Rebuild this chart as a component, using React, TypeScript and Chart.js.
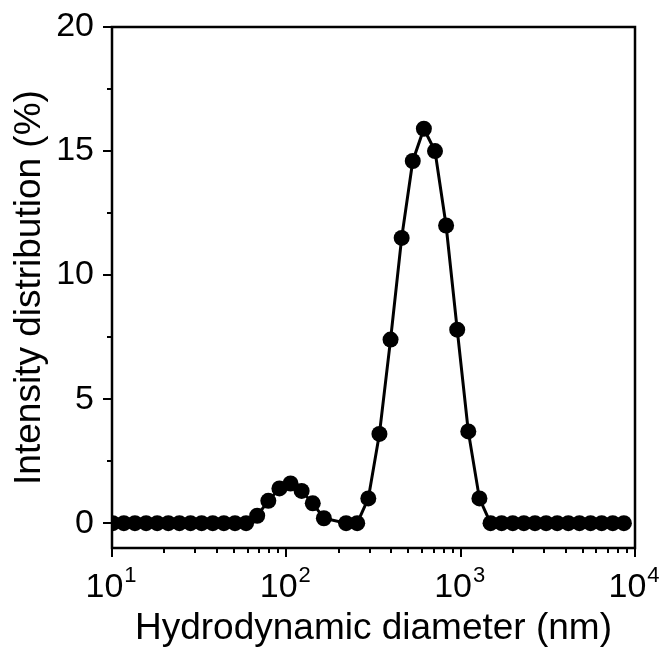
import React, { useEffect, useRef } from "react";
import { Chart, registerables } from "chart.js";

Chart.register(...registerables);

// Hydrodynamic diameter bins (nm)
const diameters: number[] = [
  10.1, 11.7, 13.54, 15.69, 18.17, 21.04, 24.36, 28.21, 32.67, 37.84, 43.82, 50.75, 58.77,
  68.06, 78.82, 91.28, 105.7, 122.4, 141.8, 164.2,
  220.2, 255.0,
  295.3, 342.0, 396.1, 458.7, 531.2, 615.1, 712.4, 825.0, 955.4, 1106, 1281,
  1484, 1718, 1990, 2305, 2669, 3091, 3580, 4145, 4801, 5560, 6439, 7456, 8635,
];
// Intensity distribution (%)
const intensity: number[] = [
  0, 0, 0, 0, 0, 0, 0, 0, 0, 0, 0, 0, 0,
  0.3, 0.9, 1.4, 1.6, 1.3, 0.8, 0.2,
  0, 0,
  1.0, 3.6, 7.4, 11.5, 14.6, 15.9, 15.0, 12.0, 7.8, 3.7, 1.0,
  0, 0, 0, 0, 0, 0, 0, 0, 0, 0, 0, 0, 0,
];

const xMajorTicks: number[] = [10, 100, 1000, 10000];
const xExponents: string[] = ["1", "2", "3", "4"];
const yMajorTicks: number[] = [0, 5, 10, 15, 20];
const yMinorTicks: number[] = [2.5, 7.5, 12.5, 17.5];

const xTitle = "Hydrodynamic diameter (nm)";
const yTitle = "Intensity distribution (%)";

const FONT = "'Liberation Sans', Arial, Helvetica, sans-serif";

const axesPlugin = {
  id: "originAxes",
  afterDraw(chart: any) {
    const { ctx, chartArea } = chart;
    const xs = chart.scales.x;
    const ys = chart.scales.y;
    const { left, right, top, bottom } = chartArea;
    ctx.save();
    ctx.strokeStyle = "#000";
    ctx.lineWidth = 2.5;
    ctx.lineCap = "square";
    ctx.strokeRect(left, top, right - left, bottom - top);
    ctx.lineCap = "butt";
    ctx.lineWidth = 2;
    ctx.beginPath();
    for (const v of yMajorTicks) {
      const p = Math.round(ys.getPixelForValue(v));
      ctx.moveTo(left, p);
      ctx.lineTo(left - 9, p);
    }
    for (const v of yMinorTicks) {
      const p = Math.round(ys.getPixelForValue(v));
      ctx.moveTo(left, p);
      ctx.lineTo(left - 5, p);
    }
    for (let i = 0; i < xMajorTicks.length; i++) {
      const d = xMajorTicks[i];
      const p = Math.round(xs.getPixelForValue(d));
      ctx.moveTo(p, bottom);
      ctx.lineTo(p, bottom + 9);
      if (i < xMajorTicks.length - 1) {
        for (let k = 2; k <= 9; k++) {
          const q = Math.round(xs.getPixelForValue(d * k));
          ctx.moveTo(q, bottom);
          ctx.lineTo(q, bottom + 5);
        }
      }
    }
    ctx.stroke();

    // x tick labels: 10 with superscript exponent
    ctx.fillStyle = "#000";
    ctx.textBaseline = "alphabetic";
    ctx.textAlign = "left";
    const baseFont = `34px ${FONT}`;
    const supFont = `22px ${FONT}`;
    for (let i = 0; i < xMajorTicks.length; i++) {
      const p = xs.getPixelForValue(xMajorTicks[i]);
      ctx.font = baseFont;
      const w1 = ctx.measureText("10").width;
      ctx.font = supFont;
      const w2 = ctx.measureText(xExponents[i]).width;
      const w = w1 + 1 + w2;
      const x0 = p - w / 2 - 1;
      const yb = bottom + 49;
      ctx.font = baseFont;
      ctx.fillText("10", x0, yb);
      ctx.font = supFont;
      ctx.fillText(xExponents[i], x0 + w1 + 1, yb - 15);
    }
    ctx.restore();
  },
};

export default function App() {
  const ref = useRef<HTMLCanvasElement | null>(null);
  useEffect(() => {
    document.body.style.margin = "0";
    if (!ref.current) return;
    const chart = new Chart(ref.current, {
      type: "line",
      data: {
        datasets: [
          {
            data: diameters.map((d, i) => ({ x: d, y: intensity[i] })),
            borderColor: "#000",
            backgroundColor: "#000",
            borderWidth: 3,
            pointRadius: 8,
            pointBackgroundColor: "#000",
            pointBorderColor: "#000",
            pointBorderWidth: 0,
            tension: 0,
            clip: 0,
          } as any,
        ],
      },
      options: {
        animation: false,
        responsive: false,
        maintainAspectRatio: false,
        layout: { padding: { top: 27, right: 32, left: 0, bottom: 0 } },
        plugins: { legend: { display: false }, tooltip: { enabled: false } },
        scales: {
          x: {
            type: "logarithmic",
            position: "bottom",
            min: 10,
            max: 10000,
            grid: { display: false, drawTicks: false },
            border: { display: false },
            ticks: { display: false },
            afterFit: (s: any) => {
              s.height = 108;
              s.paddingLeft = 0;
              s.paddingRight = 0;
            },
            title: {
              display: true,
              text: xTitle,
              color: "#000",
              font: { family: FONT, size: 37 },
              padding: { top: 0, bottom: 5 },
            },
          },
          y: {
            type: "linear",
            min: -1,
            max: 20,
            grid: { display: false, drawTicks: false },
            border: { display: false },
            afterBuildTicks: (s: any) => {
              s.ticks = yMajorTicks.map((v) => ({ value: v }));
            },
            afterFit: (s: any) => {
              s.width = 112;
              s.paddingTop = 0;
              s.paddingBottom = 0;
            },
            ticks: {
              color: "#000",
              font: { family: FONT, size: 34 },
              padding: 18,
              autoSkip: false,
            },
            title: {
              display: true,
              text: yTitle,
              color: "#000",
              font: { family: FONT, size: 37 },
              padding: { top: 8, bottom: 0 },
            },
          },
        },
      },
      plugins: [axesPlugin],
    });
    return () => chart.destroy();
  }, []);
  return (
    <div style={{ width: 667, height: 656 }}>
      <canvas ref={ref} width={667} height={656} style={{ display: "block" }} />
    </div>
  );
}
